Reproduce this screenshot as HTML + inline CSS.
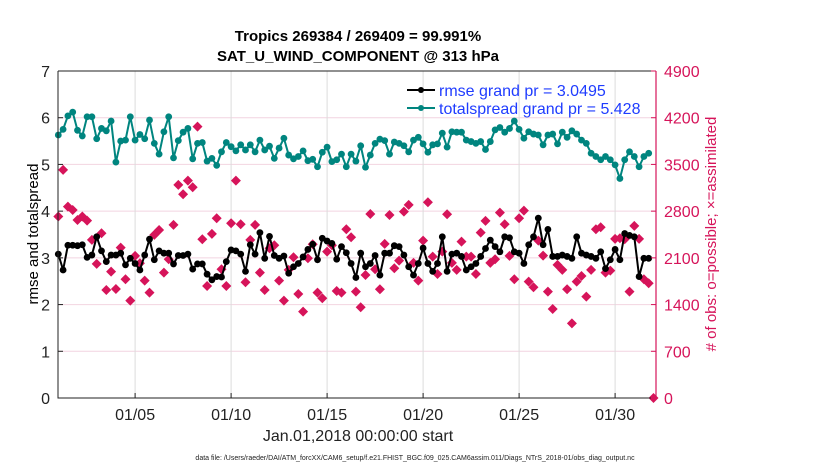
<!DOCTYPE html>
<html><head><meta charset="utf-8"><style>
body{margin:0;background:#fff;}
svg{display:block;font-family:"Liberation Sans",Arial,sans-serif;}
</style></head><body>
<svg id="chart" width="830" height="470">
<g id="grid"></g>
<g id="series"></g>
<g id="axes"></g>
<text x="358" y="41" text-anchor="middle" font-size="15" font-weight="bold">Tropics 269384 / 269409 = 99.991%</text>
<text x="358" y="61" text-anchor="middle" font-size="15" font-weight="bold">SAT_U_WIND_COMPONENT @ 313 hPa</text>
<text transform="translate(38,234) rotate(-90)" text-anchor="middle" font-size="15">rmse and totalspread</text>
<text transform="translate(716,234) rotate(-90)" text-anchor="middle" font-size="15" fill="#d6145a"># of obs: o=possible; ×=assimilated</text>
<text x="358" y="441" text-anchor="middle" font-size="16" fill="#222">Jan.01,2018 00:00:00 start</text>
<text x="415" y="460" text-anchor="middle" font-size="7" fill="#222">data file: /Users/raeder/DAI/ATM_forcXX/CAM6_setup/f.e21.FHIST_BGC.f09_025.CAM6assim.011/Diags_NTrS_2018-01/obs_diag_output.nc</text>
<g>
<line x1="407" y1="90" x2="435" y2="90" stroke="#000" stroke-width="2"/>
<circle cx="421" cy="90" r="3" fill="#000"/>
<text x="439" y="96" font-size="16" fill="#1f3cff">rmse grand pr = 3.0495</text>
<line x1="407" y1="108" x2="435" y2="108" stroke="#00857f" stroke-width="2"/>
<circle cx="421" cy="108" r="3" fill="#00857f"/>
<text x="439" y="114" font-size="16" fill="#1f3cff">totalspread grand pr = 5.428</text>
</g>
</svg>
<script>
const spread=[5.63,5.75,6.04,6.12,5.73,5.61,6.02,6.02,5.55,5.77,5.72,5.93,5.05,5.50,5.52,6.02,5.52,5.64,5.55,5.95,5.45,5.22,5.70,6.02,5.14,5.51,5.69,5.77,5.12,5.45,5.47,5.07,5.13,4.98,5.27,5.47,5.38,5.29,5.42,5.31,5.42,5.27,5.52,
5.31,5.39,5.13,5.35,5.56,5.20,5.12,5.17,5.29,5.08,5.11,4.95,5.26,5.37,5.06,5.10,5.22,4.95,5.22,5.07,5.40,4.94,5.20,5.45,5.54,5.51,5.22,5.48,5.45,5.40,5.27,5.52,5.58,5.44,5.26,5.42,5.44,5.67,5.37,5.70,
5.69,5.69,5.52,5.49,5.45,5.49,5.32,5.49,5.74,5.79,5.69,5.77,5.93,5.75,5.56,5.70,5.65,5.63,5.42,5.63,5.65,5.44,5.69,5.58,5.72,5.65,5.52,5.45,5.24,5.17,5.10,5.17,5.10,4.99,4.70,5.10,5.27,5.17,4.95,5.17,5.24];
const rmse=[3.08,2.74,3.27,3.27,3.26,3.28,3.01,3.06,3.45,3.15,2.92,3.06,3.06,3.10,2.85,2.99,2.88,2.74,3.06,3.40,2.96,3.15,3.10,3.10,2.87,3.05,3.05,3.08,2.76,2.87,2.87,2.65,2.53,2.60,2.59,2.92,3.17,3.15,3.08,2.71,3.28,3.08,3.54,
2.99,3.46,3.05,2.99,3.04,2.67,2.81,2.88,3.02,3.18,3.29,2.96,3.42,3.36,3.31,2.97,3.24,3.11,2.88,2.58,3.10,2.81,2.88,3.05,2.63,3.10,3.10,3.26,3.24,3.06,2.81,2.63,2.88,3.21,2.88,2.71,2.88,3.45,2.71,3.08,3.10,
3.03,2.74,2.81,2.88,3.03,3.20,3.38,3.24,3.13,3.45,3.43,3.13,3.10,2.88,3.28,3.45,3.85,3.28,3.61,3.03,3.03,3.06,3.03,2.99,3.45,3.10,3.06,3.03,2.99,3.13,2.77,2.96,3.18,2.96,3.52,3.48,3.45,2.60,2.99,2.99];
const obsCount=[2719,3418,2868,2818,2668,2719,2658,2369,2009,2468,1619,1894,1634,2254,1779,1459,2129,2019,1759,1579,2444,2518,1879,2079,2594,3193,3053,3258,3158,4067,2379,1679,2459,2693,1929,1679,2619,3258,2604,1734,2369,2594,1879,
1619,2244,2289,1759,1459,1919,2109,1559,1294,2094,2304,1579,1494,2194,2289,1604,1579,2529,2409,1594,1359,1844,2758,1929,1629,2309,2743,1944,2059,2793,2893,2024,1759,2358,2933,2119,1859,2194,2753,2024,1919,
2344,2119,2119,1859,2479,2654,2024,2079,2778,2604,2129,1779,2694,2808,1744,1659,2358,2134,1594,1334,1994,1919,1629,1119,1744,1829,1519,1919,2529,2559,1879,1909,2384,2394,2379,1594,2579,2384,1779,1719,0];
const yTicks=[0,1,2,3,4,5,6,7];
const rTicks=[0,700,1400,2100,2800,3500,4200,4900];
const xTickDays=[4,9,14,19,24,29];
const xTickLabels=["01/05","01/10","01/15","01/20","01/25","01/30"];
const stepDays=0.25;

const L=58,R=656,T=71,B=398;
const xs=d=>L+0.3+d*19.2;
const ys=v=>B-(v/7)*(B-T);
const yr=v=>B-(v/4900)*(B-T);
const NS="http://www.w3.org/2000/svg";
function mk(tag,attrs,parent){const e=document.createElementNS(NS,tag);for(const k in attrs)e.setAttribute(k,attrs[k]);parent.appendChild(e);return e;}
const grid=document.getElementById('grid'),ser=document.getElementById('series'),ax=document.getElementById('axes');
for(const v of yTicks){if(v===0||v===7)continue;const g=mk('line',{x1:L,x2:R,y1:ys(v),y2:ys(v),stroke:'#f2d4e0','stroke-width':1},grid);

}
xTickDays.forEach((d,i)=>{const g=mk('line',{x1:xs(d),x2:xs(d),y1:T,y2:B,stroke:'#dcdcdc','stroke-width':1},grid);


const tk=mk('text',{x:xs(d),y:B+22,'text-anchor':'middle','font-size':16,fill:'#222'},ax);tk.textContent=xTickLabels[i];


const t1=mk('line',{x1:xs(d),x2:xs(d),y1:B,y2:B-5,stroke:'#222'},ax);

});
obsCount.forEach((v,i)=>{const x=xs(i*stepDays),y=yr(v),s=5;
const p=mk('polygon',{points:`${x},${y-s} ${x+s},${y} ${x},${y+s} ${x-s},${y}`,fill:'#d6145a'},ser);

});
function line(arr,col,name){const pts=arr.map((v,i)=>xs(i*stepDays)+','+ys(v)).join(' ');
const pl=mk('polyline',{points:pts,fill:'none',stroke:col,'stroke-width':2},ser);


arr.forEach((v,i)=>{const c=mk('circle',{cx:xs(i*stepDays),cy:ys(v),r:3.4,fill:col},ser);

});}
line(spread,'#00857f','totalspread');
line(rmse,'#000','rmse');
const a1=mk('path',{d:`M${L},${T}H${R}M${L},${T}V${B}H${R}`,stroke:'#222',fill:'none','stroke-width':1},ax);


const a2=mk('line',{x1:R,x2:R,y1:T,y2:B,stroke:'#d6145a','stroke-width':1.2},ax);


yTicks.forEach(v=>{const t=mk('text',{x:L-8,y:ys(v)+6,'text-anchor':'end','font-size':16,fill:'#222'},ax);t.textContent=v;


const tk=mk('line',{x1:L,x2:L+5,y1:ys(v),y2:ys(v),stroke:'#222'},ax);

});
rTicks.forEach(v=>{const t=mk('text',{x:R+8,y:yr(v)+6,'font-size':16,fill:'#d6145a'},ax);t.textContent=v;


const tk=mk('line',{x1:R-5,x2:R,y1:yr(v),y2:yr(v),stroke:'#d6145a'},ax);

});
</script>
</body></html>
